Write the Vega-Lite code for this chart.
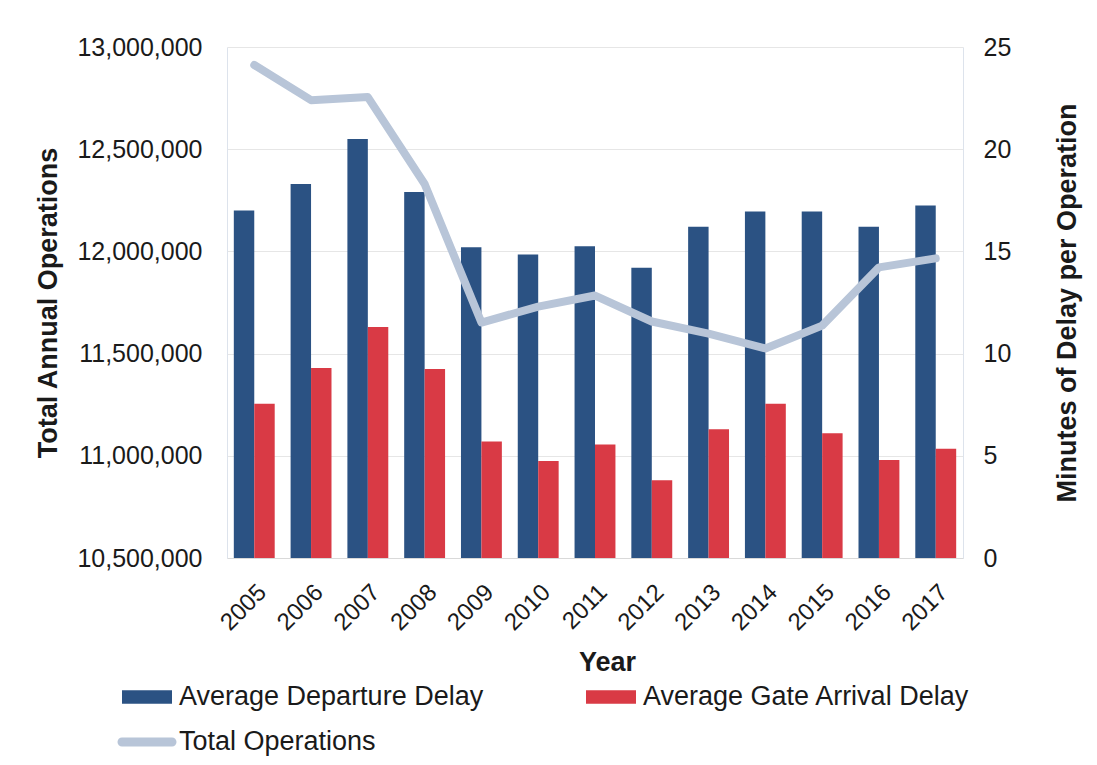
{
  "$schema": "https://vega.github.io/schema/vega-lite/v6.json",
  "width": 736,
  "height": 511,
  "autosize": {"type": "none"},
  "padding": {"left": 227, "top": 47, "right": 134, "bottom": 207},
  "background": "white",
  "config": {
    "view": {"stroke": null},
    "font": "Liberation Sans",
    "axis": {"labelFont": "Liberation Sans", "titleFont": "Liberation Sans"}
  },
  "datasets": {
    "delays": [
      {"year": "2005", "series": "Average Departure Delay", "minutes": 17.0},
      {"year": "2005", "series": "Average Gate Arrival Delay", "minutes": 7.55},
      {"year": "2006", "series": "Average Departure Delay", "minutes": 18.3},
      {"year": "2006", "series": "Average Gate Arrival Delay", "minutes": 9.3},
      {"year": "2007", "series": "Average Departure Delay", "minutes": 20.5},
      {"year": "2007", "series": "Average Gate Arrival Delay", "minutes": 11.3},
      {"year": "2008", "series": "Average Departure Delay", "minutes": 17.9},
      {"year": "2008", "series": "Average Gate Arrival Delay", "minutes": 9.25},
      {"year": "2009", "series": "Average Departure Delay", "minutes": 15.2},
      {"year": "2009", "series": "Average Gate Arrival Delay", "minutes": 5.7},
      {"year": "2010", "series": "Average Departure Delay", "minutes": 14.85},
      {"year": "2010", "series": "Average Gate Arrival Delay", "minutes": 4.75},
      {"year": "2011", "series": "Average Departure Delay", "minutes": 15.25},
      {"year": "2011", "series": "Average Gate Arrival Delay", "minutes": 5.55},
      {"year": "2012", "series": "Average Departure Delay", "minutes": 14.2},
      {"year": "2012", "series": "Average Gate Arrival Delay", "minutes": 3.8},
      {"year": "2013", "series": "Average Departure Delay", "minutes": 16.2},
      {"year": "2013", "series": "Average Gate Arrival Delay", "minutes": 6.3},
      {"year": "2014", "series": "Average Departure Delay", "minutes": 16.95},
      {"year": "2014", "series": "Average Gate Arrival Delay", "minutes": 7.55},
      {"year": "2015", "series": "Average Departure Delay", "minutes": 16.95},
      {"year": "2015", "series": "Average Gate Arrival Delay", "minutes": 6.1},
      {"year": "2016", "series": "Average Departure Delay", "minutes": 16.2},
      {"year": "2016", "series": "Average Gate Arrival Delay", "minutes": 4.8},
      {"year": "2017", "series": "Average Departure Delay", "minutes": 17.25},
      {"year": "2017", "series": "Average Gate Arrival Delay", "minutes": 5.35}
    ],
    "ops": [
      {"year": "2005", "series": "Total Operations", "operations": 12912000},
      {"year": "2006", "series": "Total Operations", "operations": 12740000},
      {"year": "2007", "series": "Total Operations", "operations": 12755000},
      {"year": "2008", "series": "Total Operations", "operations": 12330000},
      {"year": "2009", "series": "Total Operations", "operations": 11652000},
      {"year": "2010", "series": "Total Operations", "operations": 11730000},
      {"year": "2011", "series": "Total Operations", "operations": 11784000},
      {"year": "2012", "series": "Total Operations", "operations": 11657000},
      {"year": "2013", "series": "Total Operations", "operations": 11598000},
      {"year": "2014", "series": "Total Operations", "operations": 11525000},
      {"year": "2015", "series": "Total Operations", "operations": 11637000},
      {"year": "2016", "series": "Total Operations", "operations": 11922000},
      {"year": "2017", "series": "Total Operations", "operations": 11966000}
    ]
  },
  "layer": [
    {
      "data": {"name": "delays"},
      "mark": {"type": "bar"},
      "encoding": {
        "x": {
          "field": "year", "type": "nominal",
          "scale": {"paddingInner": 0.28, "paddingOuter": 0.12},
          "axis": {
            "title": "Year",
            "titleFontSize": 27, "titleFontWeight": "bold", "titleColor": "#1a1a1a",
            "titleX": 380, "titlePadding": 15,
            "labelAngle": -45, "labelAlign": "right", "labelBaseline": "top",
            "labelFontSize": 24, "labelColor": "#1a1a1a", "labelPadding": 22,
            "ticks": false, "domainColor": "#d9d9d9", "domainWidth": 1, "grid": false
          }
        },
        "xOffset": {
          "field": "series",
          "sort": ["Average Departure Delay", "Average Gate Arrival Delay"],
          "scale": {"paddingInner": 0, "paddingOuter": 0}
        },
        "y": {
          "field": "minutes", "type": "quantitative",
          "scale": {"domain": [0, 25], "nice": false},
          "axis": {
            "orient": "right",
            "title": "Minutes of Delay per Operation",
            "titleFontSize": 27, "titleFontWeight": "bold", "titleColor": "#1a1a1a",
            "titleAngle": -90, "titleBaseline": "top", "titlePadding": 44,
            "values": [0, 5, 10, 15, 20, 25],
            "labelFontSize": 25, "labelColor": "#1a1a1a", "labelPadding": 20,
            "ticks": false, "domainColor": "#dde3ec", "grid": false
          }
        },
        "color": {
          "field": "series", "type": "nominal",
          "scale": {
            "domain": ["Average Departure Delay", "Average Gate Arrival Delay", "Total Operations"],
            "range": ["#2b5283", "#d93a45", "#b8c5d8"]
          },
          "legend": {
            "title": null,
            "orient": "none",
            "legendX": -105,
            "legendY": 625,
            "direction": "horizontal",
            "columns": 2,
            "columnPadding": 102,
            "rowPadding": 7,
            "padding": 0,
            "symbolSize": 2500,
            "labelFont": "Liberation Sans",
            "labelFontSize": 27,
            "labelColor": "#1a1a1a",
            "labelOffset": 7,
            "labelLimit": 500,
            "encode": {
              "symbols": {
                "update": {
                  "shape": {"signal": "datum.value === 'Total Operations' ? 'M-1,-0.18H1A0.18,0.18 0 0 1 1,0.18H-1A0.18,0.18 0 0 1 -1,-0.18Z' : 'M-1,-0.27H1V0.27H-1Z'"},
                  "fill": {"signal": "scale('color', datum.value)"},
                  "fillOpacity": {"value": 1},
                  "opacity": {"value": 1},
                  "strokeWidth": {"value": 0}
                }
              }
            }
          }
        }
      }
    },
    {
      "data": {"name": "ops"},
      "mark": {"type": "line", "strokeWidth": 8, "strokeCap": "round", "strokeJoin": "round"},
      "encoding": {
        "x": {"field": "year", "type": "nominal"},
        "y": {
          "field": "operations", "type": "quantitative",
          "scale": {"domain": [10500000, 13000000], "nice": false, "zero": false},
          "axis": {
            "orient": "left",
            "title": "Total Annual Operations",
            "titleFontSize": 27, "titleFontWeight": "bold", "titleColor": "#1a1a1a",
            "titlePadding": 14,
            "values": [10500000, 11000000, 11500000, 12000000, 12500000, 13000000],
            "format": ",d",
            "labelFontSize": 25, "labelColor": "#1a1a1a", "labelPadding": 25,
            "ticks": false, "domainColor": "#dde3ec",
            "grid": true, "gridColor": "#e6e6e6", "gridWidth": 1
          }
        },
        "color": {"field": "series", "type": "nominal"}
      }
    }
  ],
  "resolve": {"scale": {"y": "independent"}, "axis": {"y": "independent"}}
}
